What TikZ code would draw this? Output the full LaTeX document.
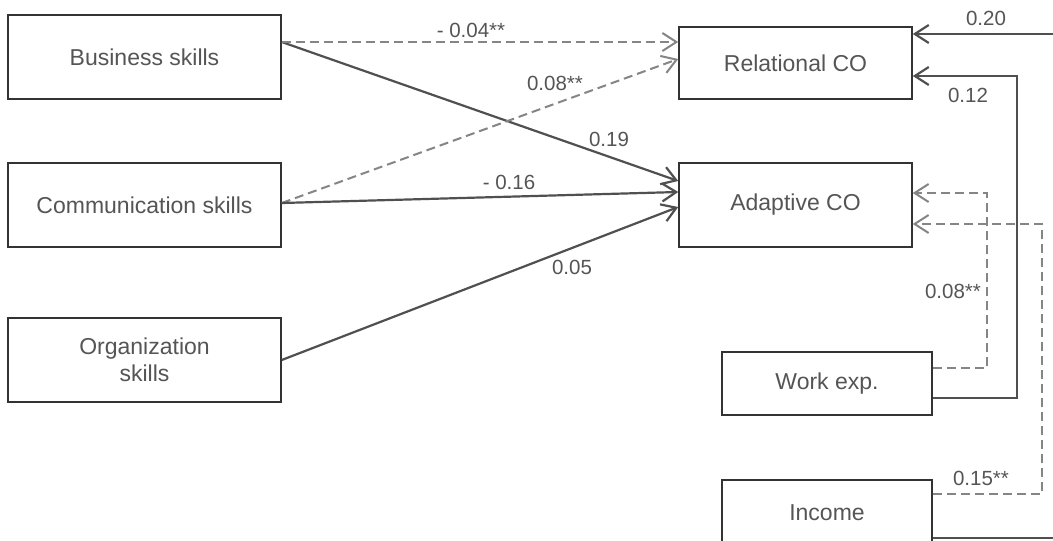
\documentclass[tikz,border=0pt]{standalone}
\usepackage{fontspec}
\setmainfont{Liberation Sans}
\usetikzlibrary{arrows.meta}
\definecolor{boxline}{HTML}{333333}
\definecolor{txt}{HTML}{555555}
\definecolor{solidpath}{HTML}{505050}
\definecolor{dashpath}{HTML}{858585}
\tikzset{
  var/.style={draw=boxline, line width=1.5pt, fill=white, inner sep=0pt,
    text=txt, align=center, font=\fontsize{23}{27}\selectfont},
  effect/.style={draw=solidpath, line width=2.2pt,
    -{Straight Barb[length=14pt, width=18pt, line width=2.2pt]}},
  weakeffect/.style={draw=dashpath, line width=2pt, dash pattern=on 9pt off 5pt,
    -{Straight Barb[length=14pt, width=18pt, line width=2pt]}},
  coef/.style={text=txt, inner sep=0pt, font=\fontsize{20.5}{24}\selectfont}
}
\begin{document}
\begin{tikzpicture}[x=1pt, y=-1pt]
  \useasboundingbox (0,0) rectangle (1053,541);
  \clip (0,0) rectangle (1053,541);
  \fill[white] (0,0) rectangle (1053,541);

  % predictors
  \node[var, minimum width=273pt, minimum height=84pt] (bus) at (144.5,57) {Business skills};
  \node[var, minimum width=273pt, minimum height=84pt] (com) at (144.5,205) {Communication skills};
  \node[var, minimum width=273pt, minimum height=84pt] (org) at (144.5,360) {Organization\\skills};

  % outcomes
  \node[var, minimum width=233pt, minimum height=72pt] (rel) at (795.5,63) {Relational CO};
  \node[var, minimum width=233pt, minimum height=84pt] (ada) at (795.5,205) {Adaptive CO};

  % controls
  \node[var, minimum width=210pt, minimum height=63pt] (work) at (827,383.5) {Work exp.};
  \node[var, minimum width=210pt, minimum height=65pt] (inc) at (827,512.5) {Income};

  % port points on the box sides
  \coordinate (busout) at (bus.east |- 0,42);
  \coordinate (comout) at (com.east |- 0,203);
  \coordinate (orgout) at (org.east |- 0,360);
  \coordinate (relinA) at (rel.west |- 0,42);
  \coordinate (relinB) at (rel.west |- 0,59);
  \coordinate (adainA) at (ada.west |- 0,181);
  \coordinate (adainB) at (ada.west |- 0,192);
  \coordinate (adainC) at (ada.west |- 0,207);
  \coordinate (relrA) at (rel.east |- 0,34);
  \coordinate (relrB) at (rel.east |- 0,76);
  \coordinate (adarA) at (ada.east |- 0,193);
  \coordinate (adarB) at (ada.east |- 0,224);
  \coordinate (workA) at (work.east |- 0,368);
  \coordinate (workB) at (work.east |- 0,398);
  \coordinate (incA) at (inc.east |- 0,494);
  \coordinate (incB) at (inc.east |- 0,538);

  % skills -> outcomes
  \draw[effect] (busout) -- (adainA);
  \draw[weakeffect] (busout) -- (relinA);
  \draw[weakeffect] (comout) -- (relinB);
  \draw[effect] (comout) -- (adainB);
  \draw[effect] (orgout) -- (adainC);

  % controls -> outcomes
  \draw[effect] (incB) -- (1075,538) -- (1075,34) -- (relrA);
  \draw[effect] (workB) -- (1017,398) -- (1017,76) -- (relrB);
  \draw[weakeffect] (workA) -- (987,368) -- (987,193) -- (adarA);
  \draw[weakeffect] (incA) -- (1042,494) -- (1042,224) -- (adarB);

  % path coefficients
  \node[coef] (c1) at (471,30) {- 0.04**};
  \node[coef] (c2) at (555,83) {0.08**};
  \node[coef] (c3) at (609,139) {0.19};
  \node[coef] (c4) at (509,182) {- 0.16};
  \node[coef] (c5) at (572,267) {0.05};
  \node[coef] (c6) at (986,18) {0.20};
  \node[coef] (c7) at (968,95) {0.12};
  \node[coef] (c8) at (953,291) {0.08**};
  \node[coef] (c9) at (981,478) {0.15**};
\end{tikzpicture}
\end{document}
